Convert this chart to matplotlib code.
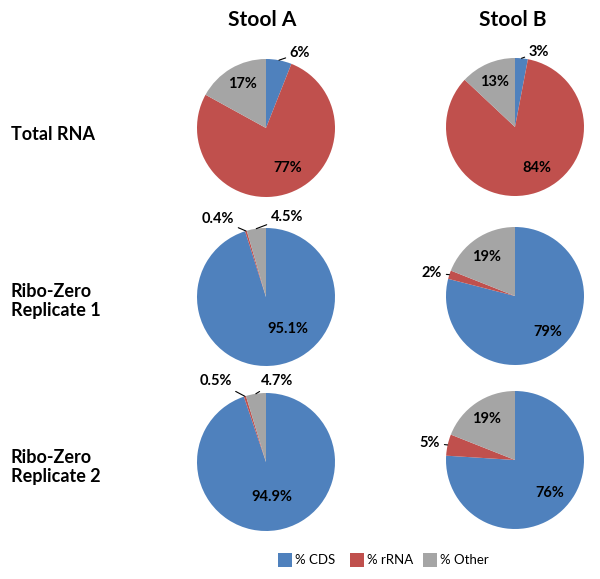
import numpy as np
import matplotlib
matplotlib.use("Agg")
import matplotlib.pyplot as plt
from matplotlib.patches import Rectangle

plt.rcParams['font.family'] = ['Lato', 'DejaVu Sans']

# ---------------- data ----------------
categories = ["% CDS", "% rRNA", "% Other"]
columns = ["Stool A", "Stool B"]
rows = ["Total RNA", "Ribo-Zero\nReplicate 1", "Ribo-Zero\nReplicate 2"]

stoolA_total = [6, 77, 17]
stoolB_total = [3, 84, 13]
stoolA_rep1 = [95.1, 0.4, 4.5]
stoolB_rep1 = [79, 2, 19]
stoolA_rep2 = [94.9, 0.5, 4.7]
stoolB_rep2 = [76, 5, 19]

labelsA_total = ["6%", "77%", "17%"]
labelsB_total = ["3%", "84%", "13%"]
labelsA_rep1 = ["95.1%", "0.4%", "4.5%"]
labelsB_rep1 = ["79%", "2%", "19%"]
labelsA_rep2 = ["94.9%", "0.5%", "4.7%"]
labelsB_rep2 = ["76%", "5%", "19%"]

colors = ["#4F81BD", "#C0504D", "#A5A5A5"]

# ---------------- layout (pixels) ----------------
W, H = 600, 579
R = 69
centers = {
    (0, 0): (266, 128), (0, 1): (515, 127),
    (1, 0): (266, 297), (1, 1): (515, 296),
    (2, 0): (266, 462), (2, 1): (515, 460),
}
# label position offsets from pie centre (px, +x right, +y down); outside flag
label_pos = {
    (0, 0): [((34, -75), True), ((22, 40), False), ((-24, -44), False)],
    (0, 1): [((24, -75), True), ((22, 41), False), ((-20, -45), False)],
    (1, 0): [((22, 32), False), ((-48, -78), True), ((21, -80), True)],
    (1, 1): [((33, 36), False), ((-83, -23), True), ((-28, -39), False)],
    (2, 0): [((6, 35), False), ((-50, -81), True), ((11, -81), True)],
    (2, 1): [((35, 33), False), ((-85, -17), True), ((-28, -41), False)],
}

data = {
    (0, 0): (stoolA_total, labelsA_total), (0, 1): (stoolB_total, labelsB_total),
    (1, 0): (stoolA_rep1, labelsA_rep1), (1, 1): (stoolB_rep1, labelsB_rep1),
    (2, 0): (stoolA_rep2, labelsA_rep2), (2, 1): (stoolB_rep2, labelsB_rep2),
}

fig = plt.figure(figsize=(W / 100, H / 100), dpi=100)

LFS = 10.5
for key, (vals, labs) in data.items():
    cx, cy = centers[key]
    ax = fig.add_axes([(cx - R) / W, 1 - (cy + R) / H, 2 * R / W, 2 * R / H])
    wedges, _ = ax.pie(vals, colors=colors, startangle=90, counterclock=False,
                       radius=1, wedgeprops=dict(linewidth=0))
    ax.set_xlim(-1, 1)
    ax.set_ylim(-1, 1)
    ax.axis('off')
    for w, lab, ((dx, dy), outside) in zip(wedges, labs, label_pos[key]):
        tx, ty = dx / R, -dy / R
        if outside:
            mid = np.deg2rad((w.theta1 + w.theta2) / 2)
            ex, ey = np.cos(mid), np.sin(mid)
            ax.annotate(lab, xy=(ex, ey), xytext=(tx, ty), ha='center', va='center',
                        fontsize=LFS, fontweight='bold', color='black',
                        arrowprops=dict(arrowstyle='-', lw=0.8, color='black',
                                        shrinkA=1, shrinkB=0),
                        annotation_clip=False)
        else:
            ax.text(tx, ty, lab, ha='center', va='center', fontsize=LFS,
                    fontweight='bold', color='black')

# column headers
header_x = [262, 513]
for j, name in enumerate(columns):
    fig.text(header_x[j] / W, 1 - 20 / H, name, ha='center', va='center',
             fontsize=15, fontweight='bold')

# row labels
row_y = [135, 301, 467]
for i, name in enumerate(rows):
    fig.text(11 / W, 1 - row_y[i] / H, name, ha='left', va='center',
             fontsize=13, fontweight='bold', linespacing=1.2)

# legend
leg_x = [278, 350, 423]
leg_y = 560
for x, c, lab in zip(leg_x, colors, categories):
    fig.patches.append(Rectangle((x / W, 1 - (leg_y + 7) / H), 14 / W, 14 / H,
                                 transform=fig.transFigure, facecolor=c,
                                 edgecolor='none'))
    fig.text((x + 17) / W, 1 - leg_y / H, lab, ha='left', va='center', fontsize=9.5)

fig.savefig("out.png", dpi=100)
